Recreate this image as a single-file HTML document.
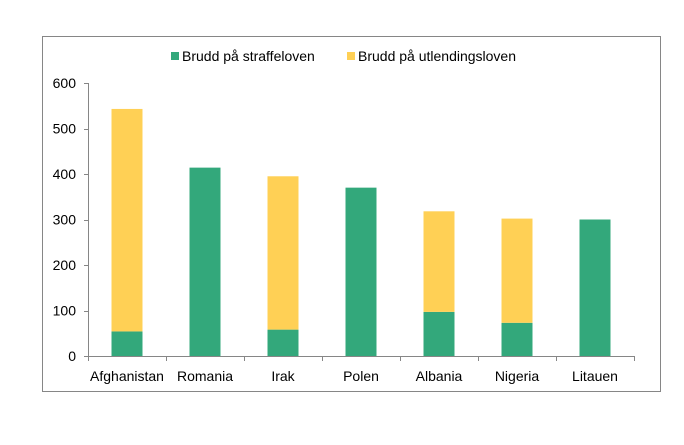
<!DOCTYPE html>
<html><head><meta charset="utf-8"><style>
body{margin:0;background:#fff;font-family:"Liberation Sans",Arial,sans-serif}
svg text{font-family:"Liberation Sans",Arial,sans-serif;fill:#000}
</style></head><body>
<svg id="chart" width="684" height="440" xmlns="http://www.w3.org/2000/svg">
<rect x="42.5" y="36.5" width="618" height="355" fill="#fff" stroke="#868686" stroke-width="1"/>
<g>
<rect x="171" y="52" width="8" height="8" fill="#33a87b"/>
<text x="182" y="61" font-size="14">Brudd på straffeloven</text>
<rect x="347" y="52" width="8" height="8" fill="#ffd055"/>
<text x="358" y="61" font-size="14">Brudd på utlendingsloven</text>
</g>
<g id="plot"></g>
</svg>
<script>
const categories=["Afghanistan","Romania","Irak","Polen","Albania","Nigeria","Litauen"];
const straffeloven=[54,414,58,370,97,73,300];
const utlendingsloven=[489,0,337,0,221,229,0];
const yTicks=[0,100,200,300,400,500,600];
const NS="http://www.w3.org/2000/svg";
const g=document.getElementById("plot");
const x0=88,x1=634,y0=356,y1=83,yMax=600;
const band=(x1-x0)/categories.length;
const y=v=>y0-(v/yMax)*(y0-y1);
const xc=i=>x0+band*(i+0.5);
function mk(t,a){const e=document.createElementNS(NS,t);for(const k in a)e.setAttribute(k,a[k]);g.appendChild(e);return e;}
const ax=mk("line",{x1:x0+0.5,y1:y1,x2:x0+0.5,y2:y0,stroke:"#868686"});


yTicks.forEach(v=>{
 const tl=mk("line",{x1:x0-4,x2:x0,y1:Math.round(y(v))+0.5,y2:Math.round(y(v))+0.5,stroke:"#868686"});
 
 
 const t=mk("text",{x:x0-12,y:y(v)+5,"text-anchor":"end","font-size":"14"});
 t.textContent=v;
 
 
});
categories.forEach((c,i)=>{
 const bw=31,bx=xc(i)-bw/2;
 const s=mk("rect",{x:bx,y:y(straffeloven[i]),width:bw,height:y0-y(straffeloven[i]),fill:"#33a87b"});
 
 
 if(utlendingsloven[i]>0){
  const u=mk("rect",{x:bx,y:y(straffeloven[i]+utlendingsloven[i]),width:bw,height:y(straffeloven[i])-y(straffeloven[i]+utlendingsloven[i]),fill:"#ffd055"});
  
  
 }
 const t=mk("text",{x:xc(i),y:y0+25,"text-anchor":"middle","font-size":"14"});
 t.textContent=c;
 
 
});
const xa=mk("line",{x1:x0,y1:y0+0.5,x2:x1,y2:y0+0.5,stroke:"#868686"});


for(let i=0;i<=categories.length;i++){
 const tk=mk("line",{x1:Math.round(x0+band*i)+0.5,x2:Math.round(x0+band*i)+0.5,y1:y0,y2:y0+5,stroke:"#868686"});
 
 
}
</script>
</body></html>
